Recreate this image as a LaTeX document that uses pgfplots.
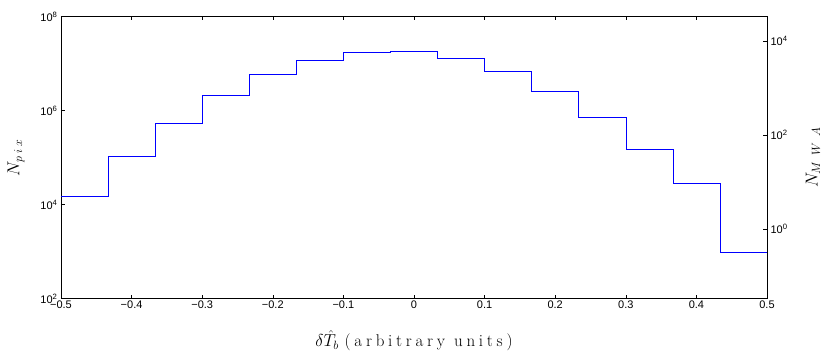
\documentclass[border=0pt]{standalone}
\usepackage{fontspec}
\usepackage{pgfplots}
\pgfplotsset{compat=1.18}
\newfontfamily\helv{Liberation Sans}
\newfontfamily\lmspaced[LetterSpace=22]{Latin Modern Roman}
\begin{document}
\begin{tikzpicture}
\begin{axis}[name=ax,
  scale only axis, width=706pt, height=282pt,
  xmin=-0.5, xmax=0.5,
  ymode=log, ymin=1e2, ymax=1e8,
  axis line style={line width=0.5pt},
  tick style={black, line width=0.5pt},
  major tick length=4pt,
  tick align=inside,
  xtick={-0.5,-0.4,...,0.5},
  xticklabels={−0.5,−0.4,−0.3,−0.2,−0.1,0,0.1,0.2,0.3,0.4,0.5},
  xtick pos=both, xticklabel pos=bottom,
  ytick={1e2,1e4,1e6,1e8},
  yticklabels={10\textsuperscript{2},10\textsuperscript{4},10\textsuperscript{6},10\textsuperscript{8}},
  ytick pos=left,
  minor tick num=0,
  ticklabel style={font=\helv\fontsize{11}{13}\selectfont},
  xticklabel style={yshift=1pt},
  xlabel={$\delta\hat{T}_b\,\,${\lmspaced (arbitrary units)}},
  xlabel style={font=\fontsize{17}{20}\selectfont, at={(axis description cs:0.5,-0.149)}, anchor=center},
  ylabel={$N_{p\mkern5mu i\mkern5mu x}$},
  ylabel style={font=\fontsize{18}{21}\selectfont, at={(axis description cs:-0.0637,0.5)}, anchor=center},
]
\addplot[const plot mark left, blue, line width=0.6pt] coordinates {
(-0.5,14600) (-0.43333,106000) (-0.36667,540000) (-0.3,2100000)
(-0.23333,5800000) (-0.16667,11500000) (-0.1,17000000) (-0.03333,17900000)
(0.03333,12700000) (0.1,6800000) (0.16667,2550000) (0.23333,730000)
(0.3,149000) (0.36667,28800) (0.43333,950) (0.5,950) (0.5,100)
};
\end{axis}
\begin{axis}[
  scale only axis, width=706pt, height=282pt,
  xmin=-0.5, xmax=0.5,
  hide x axis,
  axis y line*=right,
  ymode=log, ymin=0.0339, ymax=32800,
  axis line style={line width=0.5pt},
  tick style={black, line width=0.5pt},
  major tick length=4pt,
  tick align=inside,
  ytick={1,100,10000},
  yticklabels={10\textsuperscript{0},10\textsuperscript{2},10\textsuperscript{4}},
  minor tick num=0,
  ticklabel style={font=\helv\fontsize{11}{13}\selectfont},
  ylabel={$N_{M\mkern9mu W\mkern9mu A}$},
  ylabel style={font=\fontsize{18}{21}\selectfont, at={(axis description cs:1.065,0.5)}, anchor=center},
]
\end{axis}
\path ([shift={(-61pt,-60.5pt)}]ax.south west) rectangle +(830pt,359pt);
\end{tikzpicture}
\end{document}
